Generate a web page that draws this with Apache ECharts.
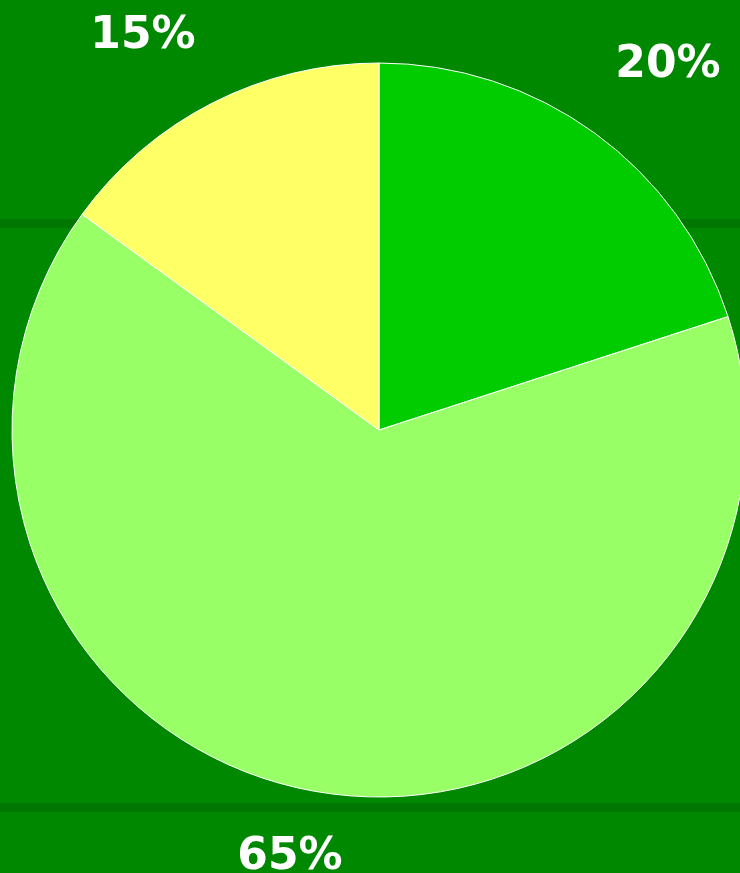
<!DOCTYPE html>
<html>
<head>
<meta charset="utf-8">
<script src="https://cdn.jsdelivr.net/npm/echarts@6/dist/echarts.min.js"></script>
<style>
html,body{margin:0;padding:0;background:#008800;}
#chart{width:740px;height:873px;}
</style>
</head>
<body>
<div id="chart"></div>
<script>
const SLICE_NAMES = ['A', 'B', 'C'];
const SLICE_VALUES = [20, 65, 15];
const SLICE_COLORS = ['#00cc00', '#99ff66', '#ffff66'];
// label anchor points (page px) for each slice
const LABEL_POS = [[668, 66], [290, 858], [143, 37]];

let myChart = echarts.init(document.getElementById('chart'));

let pieData = [];
for(let i = 0; i < SLICE_VALUES.length; i++){
	pieData.push({
		name: SLICE_NAMES[i],
		value: SLICE_VALUES[i],
		itemStyle: { color: SLICE_COLORS[i] }
	});
}

let option = {
	backgroundColor: '#008800',
	animation: false,
	graphic: [
		{ type: 'rect', z: 0, shape: { x: 0, y: 219, width: 740, height: 9 }, style: { fill: '#007700' } },
		{ type: 'rect', z: 0, shape: { x: 0, y: 803, width: 740, height: 9 }, style: { fill: '#007700' } }
	],
	series: [{
		type: 'pie',
		center: [379, 430],
		radius: [0, 367],
		startAngle: 90,
		clockwise: true,
		z: 5,
		itemStyle: { borderColor: '#ffffff', borderWidth: 1 },
		label: {
			show: true,
			position: 'outside',
			formatter: '{c}%',
			color: '#ffffff',
			fontFamily: 'DejaVu Sans',
			fontWeight: 'bold',
			fontSize: 44,
			overflow: 'none',
			width: 200
		},
		labelLine: { show: false },
		labelLayout: function(params){
			let p = LABEL_POS[params.dataIndex];
			return { x: p[0], y: p[1], align: 'center', verticalAlign: 'middle', hideOverlap: false };
		},
		emphasis: { disabled: true },
		data: pieData
	}]
};

myChart.setOption(option);
window.addEventListener('resize', function(){
	myChart.resize();
});
</script>
</body>
</html>
